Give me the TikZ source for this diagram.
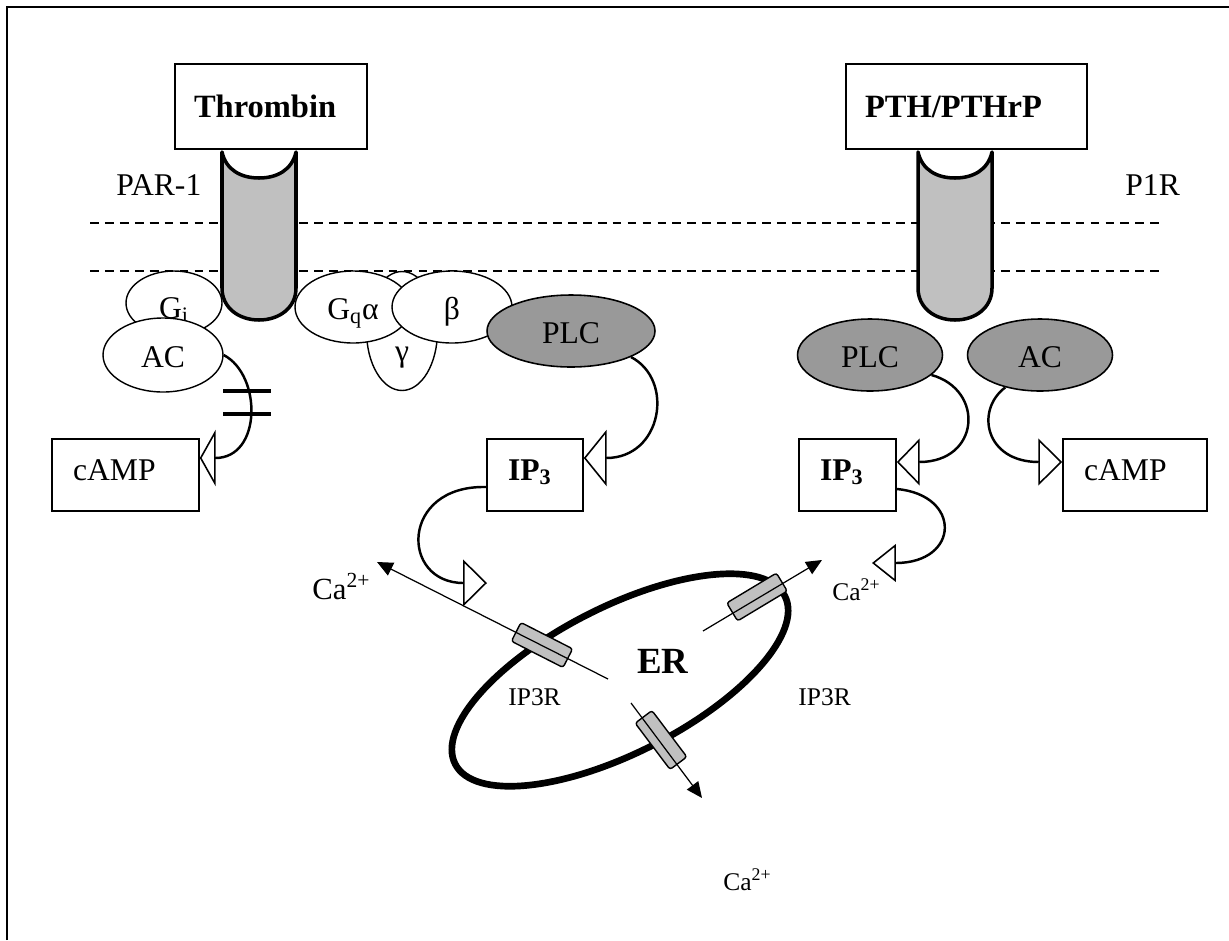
\documentclass[tikz,border=0pt]{standalone}
\usepackage{fontspec}
\setmainfont{Liberation Serif}
\usetikzlibrary{shapes.geometric,arrows.meta}

\definecolor{receptorgray}{HTML}{C0C0C0}
\definecolor{enzymegray}{HTML}{999999}

\begin{document}
\begin{tikzpicture}[x=0.02cm, y=-0.02cm]
    % Styles
    \tikzstyle{bigtext} = [font=\fontsize{18}{21}\selectfont]
    \tikzstyle{smalltext} = [font=\fontsize{14.5}{17}\selectfont]
    \tikzstyle{freetext} = [inner sep=0pt, anchor=base west]
    \tikzstyle{ligand} = [rectangle, draw, line width=1.1pt, align=left,
        inner xsep=0.38cm, minimum height=1.7cm, font=\fontsize{18.5}{21}\selectfont\bfseries]
    \tikzstyle{molbox} = [rectangle, draw, line width=0.9pt, align=left,
        inner xsep=0.42cm, minimum height=1.44cm, text height=0.2cm, text depth=0cm, bigtext]
    \tikzstyle{subunit} = [ellipse, draw, fill=white, line width=0.8pt, inner sep=0pt,
        text height=0.48cm, text depth=0cm, bigtext]
    \tikzstyle{enzyme} = [ellipse, draw, fill=enzymegray, line width=0.9pt, inner sep=0pt,
        text height=0.48cm, text depth=0cm, bigtext]
    \tikzstyle{channel} = [rectangle, draw, fill=receptorgray, rounded corners=1.5pt,
        line width=0.8pt, minimum width=1.16cm, minimum height=0.42cm, inner sep=0pt]
    \tikzstyle{membrane} = [line width=0.6pt, dash pattern=on 5pt off 3.5pt]
    \tikzstyle{release} = [line width=0.7pt, -{Triangle[length=9pt, width=8pt]}]
    \tikzset{activate/.style 2 args={line width=1.4pt,
        -{Triangle[open, length=#1, width=#2, line width=0.9pt]}}}

    \useasboundingbox (0,0) rectangle (1229,940);

    % Frame
    \draw [line width=1.7pt] (7,940) -- (7,7) -- (1229,7);

    % === Membrane ===
    \foreach \y in {223,271}
        \draw [membrane] (90,\y) -- (1160,\y);

    % Receptors
    \foreach \cx in {259,955}
        \draw [line width=2pt, line join=round, fill=receptorgray] ({\cx-37},152) -- ({\cx-37},288)
            .. controls ({\cx-37},308) and ({\cx-20},320) .. (\cx,320)
            .. controls ({\cx+20},320) and ({\cx+37},308) .. ({\cx+37},288)
            -- ({\cx+37},152)
            .. controls ({\cx+33},170) and ({\cx+18},178) .. (\cx,178)
            .. controls ({\cx-18},178) and ({\cx-33},170) .. cycle;

    % Ligands
    \node [ligand, text width=3.08cm] (thrombin) at (271,106.5) {Thrombin};
    \node [ligand, text width=4.06cm] (pthrp) at (966.5,106.5) {PTH/PTHrP};

    \node [freetext, bigtext] (par1) at (116,195) {PAR-1};
    \node [freetext, bigtext] (p1r) at (1125,195) {P1R};

    % === LEFT: G proteins ===
    \node [subunit, minimum width=1.42cm, minimum height=2.38cm,
        label={[bigtext, yshift=-0.54cm]center:γ}] (ggamma) at (402,331) {};
    \node [subunit, minimum width=2.32cm, minimum height=1.44cm] (gqalpha) at (353,307) {G\textsubscript{q}α};
    \node [subunit, minimum width=2.4cm, minimum height=1.44cm] (gbeta) at (452,307) {β};
    \node [enzyme, minimum width=3.36cm, minimum height=1.44cm] (plcleft) at (571,331) {PLC};

    \node [subunit, minimum width=1.92cm, minimum height=1.28cm, text height=0.6cm] (gi) at (174,303) {G\textsubscript{i}};
    \node [subunit, minimum width=2.4cm, minimum height=1.48cm] (acleft) at (163,355) {AC};

    % === RIGHT: effectors ===
    \node [enzyme, minimum width=2.9cm, minimum height=1.44cm] (plcright) at (870,355) {PLC};
    \node [enzyme, minimum width=2.9cm, minimum height=1.44cm] (acright) at (1040,355) {AC};

    % Second messengers
    \node [molbox, text width=2.1cm] (campleft) at (125.5,475) {cAMP};
    \node [molbox, text width=1.08cm] (ipleft) at (535,475) {\textbf{IP\textsubscript{3}}};
    \node [molbox, text width=1.1cm] (ipright) at (847.5,475) {\textbf{IP\textsubscript{3}}};
    \node [molbox, text width=2.04cm] (campright) at (1135,475) {cAMP};

    % === ARROWS: signalling ===
    \draw [activate={9pt}{32pt}] (acleft.east) .. controls (262,375) and (262,458)
        .. ([yshift=0.34cm]campleft.east);
    \foreach \y in {391,414}
        \draw [line width=2pt] (223,\y) -- (271,\y);

    \draw [activate={13pt}{32pt}] (plcleft.south east) .. controls (675,380) and (662,458)
        .. ([yshift=0.34cm]ipleft.east);

    \coordinate (iptipleft) at (487,583);
    \draw [activate={13.6pt}{26.6pt}] ([yshift=-0.24cm]ipleft.west) .. controls (400,485) and (400,583)
        .. (iptipleft);

    \draw [activate={13pt}{26.6pt}] (plcright.-18) .. controls (985,390) and (980,462)
        .. ([yshift=0.26cm]ipright.east);
    \draw [activate={13.6pt}{26.6pt}] (acright.-137) .. controls (975,410) and (985,462)
        .. ([yshift=0.26cm]campright.west);

    \coordinate (iptipright) at (872,563);
    \draw [activate={13.6pt}{21.5pt}] ([yshift=-0.28cm]ipright.east) .. controls (962,495) and (960,563)
        .. (iptipright);

    % === ER ===
    \draw [line width=3.8pt, rotate around={27:(620,680)}] (620,680) ellipse [x radius=185, y radius=73];

    \node [channel, rotate=-27] (chleft) at (542,645) {};
    \node [channel, rotate=31] (chright) at (757,597) {};
    \node [channel, rotate=-53] (chbottom) at (661,740) {};

    \coordinate (inleft) at (608,679);
    \coordinate (outleft) at (377,562);
    \coordinate (inright) at (703,631);
    \coordinate (outright) at (822,560);
    \coordinate (inbottom) at (631,703);
    \coordinate (outbottom) at (702,798);
    \draw [release] (inleft) -- (outleft);
    \draw [release] (inright) -- (outright);
    \draw [release] (inbottom) -- (outbottom);

    % Labels
    \node [freetext, font=\fontsize{21}{24}\selectfont\bfseries] (er) at (637,673) {ER};
    \node [freetext, smalltext] (iprleft) at (508,705) {IP3R};
    \node [freetext, smalltext] (iprright) at (798,705) {IP3R};
    \node [freetext, font=\fontsize{17.5}{20}\selectfont] (caleft) at (312,599) {Ca\textsuperscript{2+}};
    \node [freetext, smalltext] (caright) at (832,600) {Ca\textsuperscript{2+}};
    \node [freetext, smalltext] (cabottom) at (723,890) {Ca\textsuperscript{2+}};

\end{tikzpicture}
\end{document}
